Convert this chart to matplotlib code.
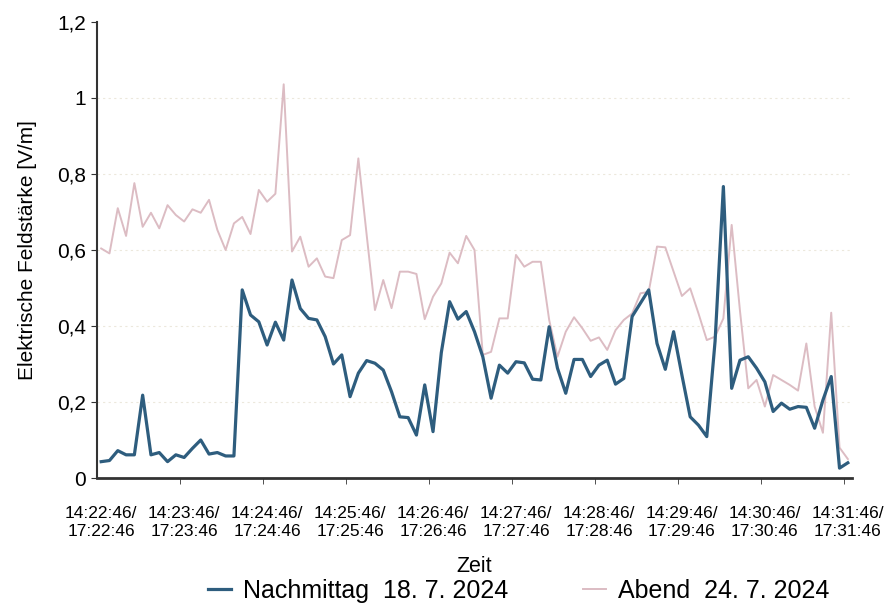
import numpy as np
import matplotlib
matplotlib.use("Agg")
import matplotlib.pyplot as plt
from matplotlib import font_manager

#data, one value every 6 seconds
nachmittag = [0.043, 0.046, 0.072, 0.061, 0.061, 0.218, 0.061, 0.067, 0.043, 0.061,
              0.054, 0.078, 0.100, 0.063, 0.067, 0.058, 0.058, 0.495, 0.429, 0.411,
              0.350, 0.410, 0.363, 0.521, 0.446, 0.420, 0.416, 0.372, 0.300, 0.324,
              0.214, 0.276, 0.309, 0.302, 0.284, 0.227, 0.161, 0.159, 0.113, 0.245,
              0.122, 0.330, 0.464, 0.418, 0.438, 0.385, 0.319, 0.210, 0.297, 0.276,
              0.306, 0.303, 0.260, 0.258, 0.398, 0.289, 0.223, 0.312, 0.312, 0.267,
              0.297, 0.310, 0.247, 0.262, 0.425, 0.460, 0.495, 0.354, 0.286, 0.385,
              0.271, 0.161, 0.139, 0.109, 0.360, 0.767, 0.236, 0.310, 0.319, 0.289,
              0.253, 0.175, 0.197, 0.181, 0.188, 0.186, 0.131, 0.205, 0.267, 0.026,
              0.040]
abend = [0.604, 0.591, 0.710, 0.637, 0.776, 0.661, 0.698, 0.657, 0.718, 0.692,
         0.675, 0.707, 0.698, 0.732, 0.653, 0.600, 0.670, 0.687, 0.642, 0.758,
         0.727, 0.748, 1.036, 0.596, 0.635, 0.556, 0.578, 0.530, 0.526, 0.626,
         0.639, 0.841, 0.640, 0.442, 0.521, 0.447, 0.543, 0.543, 0.537, 0.418,
         0.477, 0.512, 0.593, 0.565, 0.637, 0.600, 0.324, 0.332, 0.420, 0.420,
         0.587, 0.556, 0.569, 0.569, 0.416, 0.319, 0.385, 0.423, 0.394, 0.361,
         0.370, 0.337, 0.389, 0.416, 0.433, 0.486, 0.490, 0.609, 0.607, 0.543,
         0.479, 0.499, 0.433, 0.363, 0.372, 0.420, 0.666, 0.440, 0.236, 0.258,
         0.188, 0.271, 0.258, 0.245, 0.230, 0.354, 0.188, 0.119, 0.435, 0.080,
         0.050]

zeit_labels = ["14:22:46/\n17:22:46", "14:23:46/\n17:23:46", "14:24:46/\n17:24:46",
               "14:25:46/\n17:25:46", "14:26:46/\n17:26:46", "14:27:46/\n17:27:46",
               "14:28:46/\n17:28:46", "14:29:46/\n17:29:46", "14:30:46/\n17:30:46",
               "14:31:46/\n17:31:46"]
y_ticks = [0, 0.2, 0.4, 0.6, 0.8, 1.0, 1.2]
y_labels = ["0", "0,2", "0,4", "0,6", "0,8", "1", "1,2"]

#fonts
names = set(f.name for f in font_manager.fontManager.ttflist)
narrow = "Liberation Sans Narrow" if "Liberation Sans Narrow" in names else "Liberation Sans"
plt.rcParams['font.family'] = ['Liberation Sans', 'DejaVu Sans']

x = np.arange(len(nachmittag))

fig = plt.figure(figsize=(8.87, 6.09), dpi=100)
ax = fig.add_axes([0.1094, 0.2151, 0.8511, 0.7488])

ax.plot(x, abend, color="#dcbcc3", linewidth=1.4, label="Abend  24. 7. 2024", zorder=2)
ax.plot(x, nachmittag, color="#2e5d7e", linewidth=2.3, label="Nachmittag  18. 7. 2024", zorder=3)

ax.set_xlim(-0.5, len(x) - 0.5)
ax.set_ylim(0, 1.2)

#faint grid lines
for yv in y_ticks[1:-1]:
    ax.axhline(yv, color="#ece8dc", linewidth=0.8, linestyle=(0, (2, 3)), zorder=1)

ax.set_yticks(y_ticks)
ax.set_yticklabels(y_labels, fontsize=15)
ax.set_xticks(x[::10])
ax.set_xticklabels(zeit_labels, fontsize=12.5, family=[narrow, 'DejaVu Sans'], linespacing=1.3)
ax.set_xticks(np.arange(9.5, len(x) - 1, 10), minor=True)
ax.tick_params(axis='x', which='major', length=0, pad=20)
ax.tick_params(axis='x', which='minor', length=4, direction='out', color="#333333")
ax.tick_params(axis='y', length=4, direction='out', color="#333333", pad=4)

for s in ['top', 'right']:
    ax.spines[s].set_visible(False)
ax.spines['left'].set_color("#333333")
ax.spines['bottom'].set_color("#333333")
ax.spines['left'].set_linewidth(1.5)
ax.spines['bottom'].set_linewidth(2)

ax.set_xlabel("Zeit", fontsize=15.5, labelpad=12)
ax.set_ylabel("Elektrische Feldstärke [V/m]", fontsize=15, labelpad=14)

handles, labels = ax.get_legend_handles_labels()
fig.legend(handles[::-1], labels[::-1], loc='lower center', ncol=2, frameon=False,
           bbox_to_anchor=(0.585, -0.027), prop={'family': [narrow, 'DejaVu Sans'], 'size': 18},
           handlelength=0.9, columnspacing=3, handletextpad=0.5)

plt.savefig("out.png", dpi=100)
